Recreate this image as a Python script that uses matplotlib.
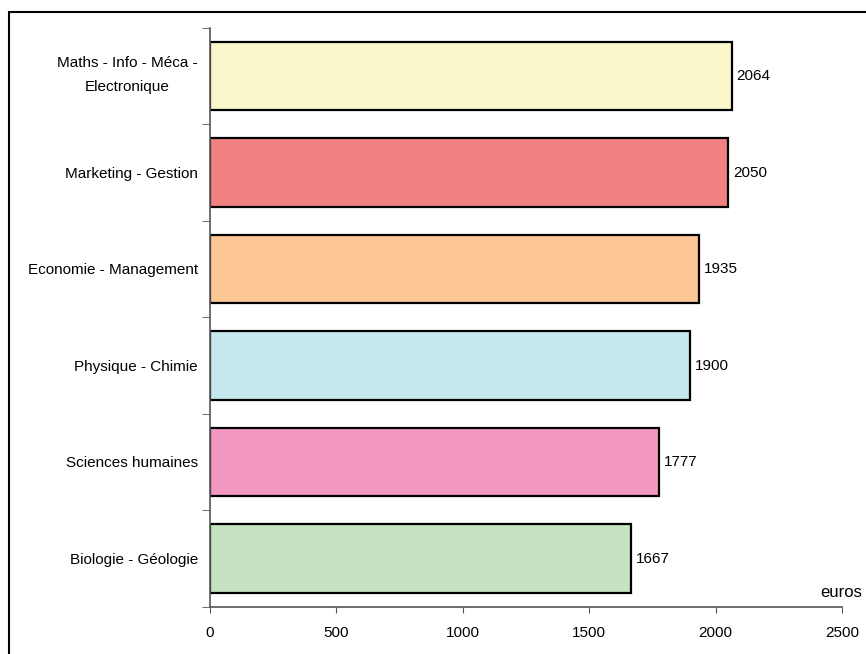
import matplotlib.pyplot as plt
from matplotlib.patches import Rectangle
from matplotlib.transforms import ScaledTranslation, blended_transform_factory
import numpy as np

plt.rcParams['font.family'] = ['Liberation Sans', 'DejaVu Sans']

# salaires par filière, du haut vers le bas
filieres = ["Maths - Info - Méca -\nElectronique", "Marketing - Gestion",
            "Economie - Management", "Physique - Chimie",
            "Sciences humaines", "Biologie - Géologie"]
salaires = [2064, 2050, 1935, 1900, 1777, 1667]
couleurs = ["#FAF7CA", "#F28181", "#FDC696", "#C5E8EF", "#F398C0", "#C5E2C1"]
xticks = [0, 500, 1000, 1500, 2000, 2500]

fig = plt.figure(figsize=(8.66, 6.54), dpi=100)
ax = fig.add_axes([0.2425, 0.0719, 0.7298, 0.8853])

ypos = np.arange(len(filieres))[::-1]
ax.barh(ypos, salaires, height=0.71, color=couleurs, edgecolor='black', linewidth=1.6)

for y, v in zip(ypos, salaires):
    ax.text(v + 18, y, str(v), va='center', ha='left', fontsize=11)

# libellés des filières, placés à la main pour régler l'interligne
trans = blended_transform_factory(ax.transAxes, ax.transData)
for y, nom in zip(ypos, filieres):
    dy = 1 / 100 if '\n' in nom else -1 / 100
    ax.text(-0.019, y, nom, transform=trans + ScaledTranslation(0, dy, fig.dpi_scale_trans),
            ha='right', va='center', multialignment='center', linespacing=1.9, fontsize=11)

ax.set_xlim(0, 2500)
ax.set_ylim(-0.5, len(filieres) - 0.5)
ax.set_xticks(xticks)
ax.set_xticklabels([str(t) for t in xticks], fontsize=11)
ax.set_yticks([])
ax.set_yticks(np.arange(-0.5, len(filieres)), minor=True)
ax.tick_params(axis='y', which='minor', length=6, direction='out', color='#555555')
ax.tick_params(axis='x', length=4, direction='out', color='#555555', pad=10)

for s in ['top', 'right']:
    ax.spines[s].set_visible(False)
for s in ['left', 'bottom']:
    ax.spines[s].set_color('#555555')
    ax.spines[s].set_linewidth(1.2)

ax.text(1.0316, 0.012, "euros", transform=ax.transAxes, ha='right', va='bottom', fontsize=12)

# cadre autour du graphique
fig.patches.append(Rectangle((9 / 866, -0.1), 1.2, 1 - 12 / 654 + 0.1, transform=fig.transFigure,
                             fill=False, edgecolor='black', linewidth=1.5))

fig.savefig("out.png", dpi=100)
